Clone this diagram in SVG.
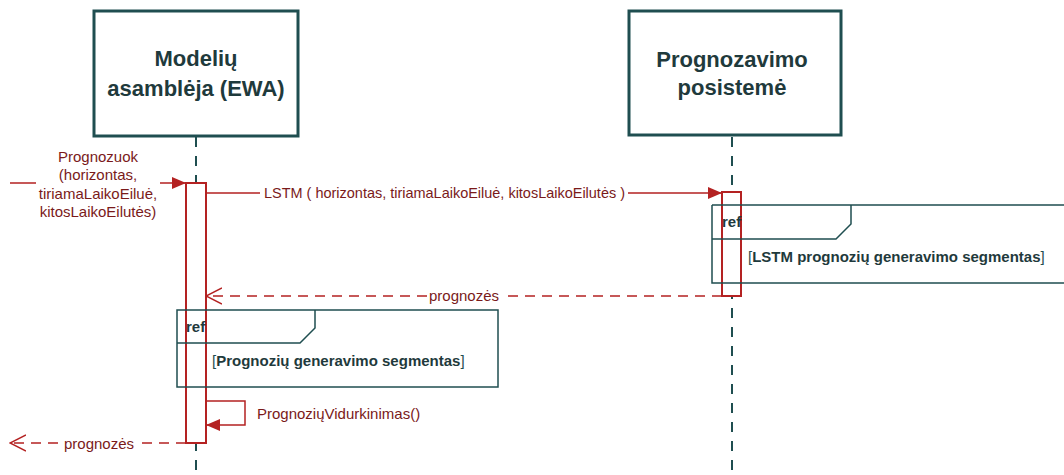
<svg xmlns="http://www.w3.org/2000/svg" width="1064" height="475" viewBox="0 0 1064 475">
<style>
.box{fill:#fff;stroke:#1f4e50;stroke-width:3}
.title{font-family:"Liberation Sans",Arial,sans-serif;font-weight:bold;font-size:22px;fill:#1f3a3c;text-anchor:middle}
.life{stroke:#1f4e50;stroke-width:2;stroke-dasharray:10 9;fill:none}
.act{fill:#fff;stroke:#b42222;stroke-width:2}
.msg{stroke:#b42222;stroke-width:1.5;fill:none}
.ret{stroke:#b42222;stroke-width:1.5;fill:none;stroke-dasharray:10 7}
.lbl{font-family:"Liberation Sans",Arial,sans-serif;font-size:15px;fill:#7a1a1a}
.frame{fill:none;stroke:#1f4e50;stroke-width:1.5}
.ref{font-family:"Liberation Sans",Arial,sans-serif;font-weight:bold;font-size:15px;fill:#1f3a3c}
.seg{font-family:"Liberation Sans",Arial,sans-serif;font-size:15px;fill:#1f4e50}
.segb{font-weight:bold;fill:#1f3a3c}
</style>
<defs>
<marker id="fill" markerWidth="14" markerHeight="12" refX="14" refY="6" orient="auto" markerUnits="userSpaceOnUse">
<path d="M0,0 L14,6 L0,12 Z" fill="#b42222"/>
</marker>
<marker id="open" markerWidth="17" markerHeight="18" refX="16" refY="9" orient="auto" markerUnits="userSpaceOnUse">
<path d="M0,1 L16,9 L0,17" fill="none" stroke="#b42222" stroke-width="1.5"/>
</marker>
</defs>

<g id="lifelines">
<line class="life" x1="196" y1="137" x2="196" y2="475"/>
<line class="life" x1="732" y1="137" x2="732" y2="475"/>
</g>

<g id="node-ewa">
<rect class="box" x="94" y="11" width="204" height="125"/>
<text class="title" x="196" y="66">Modelių</text>
<text class="title" x="196" y="96">asamblėja (EWA)</text>
</g>

<g id="node-prog">
<rect class="box" x="629" y="11" width="212" height="124"/>
<text class="title" x="732" y="67">Prognozavimo</text>
<text class="title" x="732" y="95">posistemė</text>
</g>

<g id="activations">
<rect class="act" x="186" y="183" width="20" height="260"/>
<rect class="act" x="722" y="192" width="19" height="104"/>
</g>

<g id="ref-lstm">
<path class="frame" d="M712,205 H1066 M712,205 V283 H1066"/>
<path class="frame" d="M712,239 H836 L851,224 V205"/>
<text class="ref" x="722" y="227">ref</text>
<text class="seg" x="748" y="262">[<tspan class="segb">LSTM prognozių generavimo segmentas</tspan>]</text>
</g>

<g id="ref-prog">
<rect class="frame" x="177" y="310" width="321" height="77"/>
<path class="frame" d="M177,343 H300 L315,328 V310"/>
<text class="ref" x="186" y="332">ref</text>
<text class="seg" x="212" y="366">[<tspan class="segb">Prognozių generavimo segmentas</tspan>]</text>
</g>

<g id="connectors">
<path class="msg" d="M10,183 H36 M160,183 H186" marker-end="url(#fill)"/>
<text class="lbl" text-anchor="middle" x="98" y="162">Prognozuok</text>
<text class="lbl" text-anchor="middle" x="98" y="180">(horizontas,</text>
<text class="lbl" text-anchor="middle" x="98" y="199">tiriamaLaikoEiluė,</text>
<text class="lbl" text-anchor="middle" x="98" y="217">kitosLaikoEilutės)</text>

<path class="msg" d="M206,193 H260 M628,193 H722" marker-end="url(#fill)"/>
<text class="lbl" x="264" y="198" textLength="361" lengthAdjust="spacingAndGlyphs">LSTM ( horizontas, tiriamaLaikoEiluė, kitosLaikoEilutės )</text>

<path class="ret" d="M722,296 H501 M427,296 H206" marker-end="url(#open)"/>
<text class="lbl" text-anchor="middle" x="464" y="301">prognozės</text>

<path class="msg" d="M206,401 H245 V425 H206" marker-end="url(#fill)"/>
<text class="lbl" x="257" y="419">PrognoziųVidurkinimas()</text>

<path class="ret" d="M186,443 H142 M58,443 H10" marker-end="url(#open)"/>
<text class="lbl" text-anchor="middle" x="99" y="449">prognozės</text>
</g>
</svg>
